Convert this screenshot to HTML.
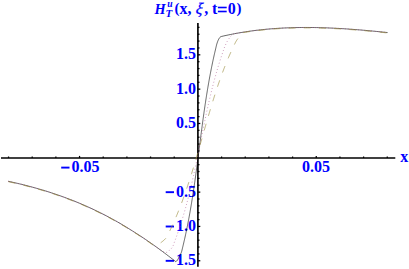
<!DOCTYPE html>
<html><head><meta charset="utf-8"><style>
html,body{margin:0;padding:0;background:#fff;}
svg{display:block;}
text{font-family:"Liberation Serif",serif;font-weight:bold;font-size:16px;fill:#0000ff;}
</style></head><body>
<svg width="409" height="269" viewBox="0 0 409 269">
<rect width="409" height="269" fill="#fff"/>
<g stroke="#000" stroke-width="1.65" fill="none">
<line x1="1" y1="158.00" x2="395.3" y2="158.00"/>
<line x1="197.9" y1="23.0" x2="197.9" y2="266.7"/>
</g>
<g stroke="#000" stroke-width="1.25" fill="none">
<line x1="8.54" y1="158.00" x2="8.54" y2="156.50"/>
<line x1="32.21" y1="158.00" x2="32.21" y2="156.50"/>
<line x1="55.88" y1="158.00" x2="55.88" y2="156.50"/>
<line x1="79.55" y1="158.00" x2="79.55" y2="155.90"/>
<line x1="103.22" y1="158.00" x2="103.22" y2="156.50"/>
<line x1="126.89" y1="158.00" x2="126.89" y2="156.50"/>
<line x1="150.56" y1="158.00" x2="150.56" y2="156.50"/>
<line x1="174.23" y1="158.00" x2="174.23" y2="156.50"/>
<line x1="221.57" y1="158.00" x2="221.57" y2="156.50"/>
<line x1="245.24" y1="158.00" x2="245.24" y2="156.50"/>
<line x1="268.91" y1="158.00" x2="268.91" y2="156.50"/>
<line x1="292.58" y1="158.00" x2="292.58" y2="156.50"/>
<line x1="316.25" y1="158.00" x2="316.25" y2="155.90"/>
<line x1="339.92" y1="158.00" x2="339.92" y2="156.50"/>
<line x1="363.59" y1="158.00" x2="363.59" y2="156.50"/>
<line x1="387.26" y1="158.00" x2="387.26" y2="156.50"/>
<line x1="197.90" y1="260.77" x2="200.30" y2="260.77"/>
<line x1="197.90" y1="253.91" x2="199.50" y2="253.91"/>
<line x1="197.90" y1="247.05" x2="199.50" y2="247.05"/>
<line x1="197.90" y1="240.18" x2="199.50" y2="240.18"/>
<line x1="197.90" y1="233.32" x2="199.50" y2="233.32"/>
<line x1="197.90" y1="226.45" x2="200.30" y2="226.45"/>
<line x1="197.90" y1="219.59" x2="199.50" y2="219.59"/>
<line x1="197.90" y1="212.72" x2="199.50" y2="212.72"/>
<line x1="197.90" y1="205.86" x2="199.50" y2="205.86"/>
<line x1="197.90" y1="198.99" x2="199.50" y2="198.99"/>
<line x1="197.90" y1="192.12" x2="200.30" y2="192.12"/>
<line x1="197.90" y1="185.26" x2="199.50" y2="185.26"/>
<line x1="197.90" y1="178.40" x2="199.50" y2="178.40"/>
<line x1="197.90" y1="171.53" x2="199.50" y2="171.53"/>
<line x1="197.90" y1="164.67" x2="199.50" y2="164.67"/>
<line x1="197.90" y1="150.94" x2="199.50" y2="150.94"/>
<line x1="197.90" y1="144.07" x2="199.50" y2="144.07"/>
<line x1="197.90" y1="137.21" x2="199.50" y2="137.21"/>
<line x1="197.90" y1="130.34" x2="199.50" y2="130.34"/>
<line x1="197.90" y1="123.48" x2="200.30" y2="123.48"/>
<line x1="197.90" y1="116.61" x2="199.50" y2="116.61"/>
<line x1="197.90" y1="109.75" x2="199.50" y2="109.75"/>
<line x1="197.90" y1="102.88" x2="199.50" y2="102.88"/>
<line x1="197.90" y1="96.02" x2="199.50" y2="96.02"/>
<line x1="197.90" y1="89.15" x2="200.30" y2="89.15"/>
<line x1="197.90" y1="82.28" x2="199.50" y2="82.28"/>
<line x1="197.90" y1="75.42" x2="199.50" y2="75.42"/>
<line x1="197.90" y1="68.56" x2="199.50" y2="68.56"/>
<line x1="197.90" y1="61.69" x2="199.50" y2="61.69"/>
<line x1="197.90" y1="54.83" x2="200.30" y2="54.83"/>
<line x1="197.90" y1="47.96" x2="199.50" y2="47.96"/>
<line x1="197.90" y1="41.09" x2="199.50" y2="41.09"/>
<line x1="197.90" y1="34.23" x2="199.50" y2="34.23"/>
<line x1="197.90" y1="27.37" x2="199.50" y2="27.37"/>
</g>
<g>
<text x="196.0" y="59.08" text-anchor="end">1.5</text>
<text x="196.0" y="93.70" text-anchor="end">1.0</text>
<text x="196.0" y="128.03" text-anchor="end">0.5</text>
<rect x="165.7" y="191.23" width="8.3" height="1.9" fill="#00f"/>
<text x="196.0" y="196.82" text-anchor="end">0.5</text>
<rect x="165.7" y="225.55" width="8.3" height="1.9" fill="#00f"/>
<text x="196.0" y="231.15" text-anchor="end">1.0</text>
<rect x="165.7" y="259.88" width="8.3" height="1.9" fill="#00f"/>
<text x="196.0" y="265.28" text-anchor="end">1.5</text>
<rect x="61.2" y="166.65" width="8.3" height="1.9" fill="#00f"/><text x="71.5" y="172.0">0.05</text>
<text x="302.0" y="172.0">0.05</text>
<text x="400.3" y="161.9">x</text>
<g id="title">
<text x="0" y="0" transform="translate(154.5 13.9) scale(0.94 1)" style="font-style:italic;font-size:15.2px">H</text>
<text x="167.2" y="7.2" style="font-style:italic;font-size:9.6px">u</text>
<text x="165.5" y="17.2" style="font-style:italic;font-size:10.9px">T</text>
<text x="174.4" y="12.8" style="font-size:14.8px">(</text>
<text x="179.6" y="14.1">x,</text>
<text x="195.2" y="14.2" style="font-style:italic;font-weight:normal;font-size:16.3px;stroke:#00f;stroke-width:0.25px" transform="translate(196 14.1) skewX(-8) translate(-196 -14.1)">ξ</text>
<text x="204.3" y="14.1">,</text>
<text x="212.0" y="14.1">t</text>
<rect x="217.9" y="6.7" width="8.8" height="1.6" fill="#00f"/>
<rect x="217.9" y="10.7" width="8.8" height="1.6" fill="#00f"/>
<text x="227.8" y="14.1">0</text>
<text x="236.5" y="12.8" style="font-size:14.8px">)</text>
</g>
</g>
<g fill="none" stroke-linejoin="round">
<path d="M8.20,181.29 L10.08,181.69 L11.97,182.11 L13.85,182.53 L15.73,182.96 L17.62,183.40 L19.50,183.85 L21.38,184.31 L23.27,184.77 L25.15,185.24 L27.03,185.73 L28.91,186.22 L30.80,186.72 L32.68,187.23 L34.56,187.74 L36.45,188.27 L38.33,188.81 L40.21,189.36 L42.10,189.92 L43.98,190.48 L45.86,191.06 L47.75,191.65 L49.63,192.25 L51.51,192.86 L53.40,193.48 L55.28,194.11 L57.16,194.75 L59.04,195.40 L60.93,196.07 L62.81,196.74 L64.69,197.43 L66.58,198.13 L68.46,198.84 L70.34,199.56 L72.23,200.29 L74.11,201.04 L75.99,201.80 L77.88,202.57 L79.76,203.35 L81.64,204.15 L83.53,204.96 L85.41,205.78 L87.29,206.62 L89.18,207.47 L91.06,208.33 L92.94,209.21 L94.82,210.10 L96.71,211.00 L98.59,211.92 L100.47,212.85 L102.36,213.80 L104.24,214.76 L106.12,215.73 L108.01,216.72 L109.89,217.73 L111.77,218.75 L113.66,219.78 L115.54,220.83 L117.42,221.89 L119.31,222.98 L121.19,224.07 L123.07,225.18 L124.96,226.31 L126.84,227.45 L128.72,228.61 L130.60,229.79 L132.49,230.97 L134.37,232.15 L136.25,233.34 L138.14,234.54 L140.02,235.77 L141.90,237.01 L143.79,238.27 L145.67,239.54 L147.55,240.83 L149.44,242.13 L151.32,243.45 L153.20,244.78 L155.09,246.11 L156.97,247.46 L158.85,248.82 L160.73,250.19 L162.62,251.58 L164.50,253.00 L166.38,254.43 L168.27,255.86 L170.15,257.30 L172.03,258.75 L173.92,260.19 L175.80,261.65 L176.54,261.14 L177.16,260.50 L177.68,259.77 L178.11,259.00 L178.48,258.19 L178.85,257.36 L179.23,256.55 L179.64,255.75 L180.08,254.96 L180.51,254.17 L180.92,253.38 L181.29,252.57 L181.58,251.74 L181.82,250.88 L182.04,250.01 L182.24,249.14 L182.44,248.26 L182.65,247.39 L182.86,246.52 L183.07,245.66 L183.28,244.79 L183.48,243.92 L183.69,243.05 L183.89,242.18 L184.09,241.31 L184.29,240.44 L184.49,239.56 L184.69,238.69 L184.88,237.82 L185.08,236.95 L185.27,236.08 L185.46,235.20 L185.65,234.33 L185.84,233.46 L186.03,232.58 L186.21,231.71 L186.39,230.83 L186.58,229.96 L186.76,229.08 L186.94,228.21 L187.11,227.33 L187.29,226.46 L187.47,225.58 L187.64,224.70 L187.81,223.83 L187.99,222.95 L188.16,222.07 L188.32,221.19 L188.49,220.32 L188.66,219.44 L188.82,218.56 L188.99,217.68 L189.15,216.80 L189.31,215.92 L189.47,215.04 L189.63,214.16 L189.79,213.28 L189.95,212.40 L190.10,211.52 L190.26,210.64 L190.41,209.76 L190.56,208.88 L190.71,208.00 L190.86,207.12 L191.01,206.24 L191.16,205.36 L191.31,204.48 L191.45,203.60 L191.60,202.71 L191.74,201.83 L191.89,200.95 L192.03,200.07 L192.17,199.19 L192.31,198.30 L192.45,197.42 L192.59,196.54 L192.73,195.65 L192.86,194.77 L193.00,193.89 L193.14,193.00 L193.27,192.12 L193.40,191.24 L193.54,190.35 L193.67,189.47 L193.80,188.59 L193.93,187.70 L194.06,186.82 L194.19,185.93 L194.32,185.05 L194.45,184.16 L194.57,183.28 L194.70,182.40 L194.83,181.51 L194.95,180.63 L195.08,179.74 L195.20,178.86 L195.32,177.97 L195.45,177.09 L195.57,176.20 L195.69,175.32 L195.81,174.43 L195.93,173.54 L196.06,172.66 L196.18,171.77 L196.30,170.89 L196.41,170.00 L196.53,169.12 L196.65,168.23 L196.77,167.34 L196.89,166.46 L197.01,165.57 L197.12,164.69 L197.24,163.80 L197.36,162.91 L197.47,162.03 L197.59,161.14 L197.70,160.26 L197.82,159.37 L197.93,158.48 L198.05,157.60 L198.16,156.71 L198.28,155.82 L198.39,154.94 L198.51,154.05 L198.62,153.17 L198.74,152.28 L198.85,151.39 L198.96,150.51 L199.08,149.62 L199.19,148.73 L199.30,147.85 L199.42,146.96 L199.53,146.07 L199.65,145.19 L199.76,144.30 L199.87,143.42 L199.99,142.53 L200.10,141.64 L200.22,140.76 L200.33,139.87 L200.44,138.98 L200.56,138.10 L200.67,137.21 L200.79,136.32 L200.90,135.44 L201.02,134.55 L201.13,133.67 L201.25,132.78 L201.37,131.89 L201.48,131.01 L201.60,130.12 L201.72,129.24 L201.83,128.35 L201.95,127.46 L202.07,126.58 L202.19,125.69 L202.30,124.81 L202.42,123.92 L202.54,123.03 L202.66,122.15 L202.78,121.26 L202.90,120.38 L203.02,119.49 L203.15,118.61 L203.27,117.72 L203.39,116.84 L203.51,115.95 L203.64,115.07 L203.76,114.18 L203.89,113.30 L204.01,112.41 L204.14,111.53 L204.26,110.64 L204.39,109.76 L204.52,108.87 L204.65,107.99 L204.78,107.10 L204.91,106.22 L205.04,105.34 L205.17,104.45 L205.30,103.57 L205.44,102.68 L205.57,101.80 L205.70,100.92 L205.84,100.03 L205.98,99.15 L206.11,98.27 L206.25,97.38 L206.39,96.50 L206.53,95.62 L206.67,94.74 L206.81,93.85 L206.95,92.97 L207.10,92.09 L207.24,91.21 L207.39,90.33 L207.53,89.44 L207.68,88.56 L207.83,87.68 L207.98,86.80 L208.13,85.92 L208.28,85.04 L208.43,84.16 L208.58,83.28 L208.74,82.40 L208.89,81.52 L209.05,80.64 L209.21,79.76 L209.37,78.88 L209.53,78.00 L209.69,77.12 L209.85,76.24 L210.02,75.36 L210.18,74.49 L210.35,73.61 L210.52,72.73 L210.69,71.85 L210.86,70.97 L211.03,70.10 L211.20,69.22 L211.37,68.34 L211.55,67.47 L211.73,66.59 L211.91,65.72 L212.08,64.84 L212.27,63.97 L212.45,63.09 L212.63,62.22 L212.82,61.34 L213.00,60.47 L213.19,59.59 L213.38,58.72 L213.57,57.85 L213.77,56.98 L213.96,56.10 L214.15,55.23 L214.35,54.36 L214.55,53.49 L214.75,52.62 L214.95,51.75 L215.16,50.88 L215.36,50.01 L215.57,49.14 L215.78,48.27 L215.98,47.40 L216.18,46.52 L216.39,45.65 L216.60,44.79 L216.84,43.93 L217.11,43.08 L217.40,42.23 L217.71,41.38 L218.05,40.56 L218.42,39.75 L218.83,38.95 L219.30,38.19 L219.83,37.46 L220.47,36.85 L221.30,36.50 L223.17,36.07 L225.04,35.65 L226.91,35.25 L228.77,34.85 L230.64,34.47 L232.51,34.10 L234.38,33.74 L236.25,33.39 L238.12,33.05 L239.99,32.73 L241.85,32.41 L243.72,32.11 L245.59,31.82 L247.46,31.53 L249.33,31.26 L251.20,31.00 L253.07,30.75 L254.93,30.51 L256.80,30.28 L258.67,30.06 L260.54,29.85 L262.41,29.65 L264.28,29.46 L266.14,29.27 L268.01,29.10 L269.88,28.94 L271.75,28.79 L273.62,28.64 L275.49,28.51 L277.36,28.38 L279.22,28.26 L281.09,28.16 L282.96,28.06 L284.83,27.96 L286.70,27.88 L288.57,27.81 L290.44,27.74 L292.30,27.68 L294.17,27.63 L296.04,27.59 L297.91,27.55 L299.78,27.52 L301.65,27.50 L303.52,27.49 L305.38,27.48 L307.25,27.48 L309.12,27.49 L310.99,27.50 L312.86,27.52 L314.73,27.55 L316.60,27.59 L318.46,27.63 L320.33,27.67 L322.20,27.73 L324.07,27.79 L325.94,27.85 L327.81,27.92 L329.68,28.00 L331.54,28.08 L333.41,28.17 L335.28,28.26 L337.15,28.36 L339.02,28.46 L340.89,28.57 L342.76,28.68 L344.62,28.80 L346.49,28.93 L348.36,29.05 L350.23,29.18 L352.10,29.32 L353.97,29.46 L355.83,29.60 L357.70,29.75 L359.57,29.90 L361.44,30.06 L363.31,30.22 L365.18,30.38 L367.05,30.55 L368.91,30.72 L370.78,30.89 L372.65,31.07 L374.52,31.25 L376.39,31.43 L378.26,31.61 L380.13,31.80 L381.99,31.99 L383.86,32.18 L385.73,32.37 L387.60,32.57" stroke="#000" stroke-width="0.6"/>
<path d="M8.20,181.29 L9.91,181.66 L11.62,182.03 L13.33,182.42 L15.04,182.81 L16.76,183.20 L18.47,183.60 L20.18,184.01 L21.89,184.43 L23.60,184.85 L25.31,185.28 L27.02,185.72 L28.73,186.17 L30.45,186.62 L32.16,187.08 L33.87,187.55 L35.58,188.03 L37.29,188.51 L39.00,189.00 L40.71,189.50 L42.42,190.01 L44.14,190.53 L45.85,191.06 L47.56,191.59 L49.27,192.13 L50.98,192.68 L52.69,193.24 L54.40,193.81 L56.11,194.39 L57.83,194.98 L59.54,195.57 L61.25,196.18 L62.96,196.79 L64.67,197.42 L66.38,198.05 L68.09,198.70 L69.80,199.35 L71.52,200.01 L73.23,200.69 L74.94,201.37 L76.65,202.07 L78.36,202.77 L80.07,203.49 L81.78,204.21 L83.49,204.95 L85.21,205.69 L86.92,206.45 L88.63,207.22 L90.34,208.00 L92.05,208.79 L93.76,209.59 L95.47,210.41 L97.18,211.23 L98.90,212.07 L100.61,212.92 L102.32,213.78 L104.03,214.65 L105.74,215.53 L107.45,216.43 L109.16,217.34 L110.87,218.26 L112.59,219.19 L114.30,220.14 L116.01,221.09 L117.72,222.06 L119.43,223.05 L121.14,224.04 L122.85,225.05 L124.56,226.07 L126.28,227.11 L127.99,228.16 L129.70,229.22 L131.41,230.30 L133.12,231.36 L134.83,232.44 L136.54,233.52 L138.25,234.62 L139.97,235.73 L141.68,236.86 L143.39,238.00 L145.10,239.15 L146.81,240.32 L148.52,241.50 L150.23,242.69 L151.94,243.89 L153.66,245.10 L155.37,246.32 L157.08,247.54 L158.79,248.78 L160.50,250.02 L161.25,250.63 L162.03,251.16 L162.85,251.60 L163.68,251.91 L164.56,252.12 L165.50,252.30 L166.41,252.39 L167.22,252.29 L167.96,251.77 L168.67,251.05 L169.35,250.34 L170.05,249.73 L170.75,249.09 L171.42,248.44 L172.02,247.75 L172.53,247.02 L172.93,246.23 L173.27,245.38 L173.57,244.49 L173.87,243.61 L174.19,242.74 L174.52,241.88 L174.85,241.02 L175.17,240.16 L175.49,239.30 L175.80,238.44 L176.12,237.57 L176.43,236.71 L176.74,235.84 L177.05,234.98 L177.36,234.11 L177.66,233.24 L177.96,232.38 L178.26,231.51 L178.56,230.64 L178.85,229.77 L179.15,228.90 L179.44,228.03 L179.73,227.15 L180.01,226.28 L180.30,225.41 L180.58,224.53 L180.86,223.66 L181.14,222.78 L181.42,221.91 L181.69,221.03 L181.96,220.15 L182.23,219.27 L182.50,218.39 L182.77,217.52 L183.03,216.64 L183.30,215.76 L183.56,214.87 L183.82,213.99 L184.08,213.11 L184.33,212.23 L184.59,211.35 L184.84,210.46 L185.09,209.58 L185.34,208.69 L185.58,207.81 L185.83,206.92 L186.07,206.04 L186.31,205.15 L186.55,204.26 L186.79,203.38 L187.03,202.49 L187.27,201.60 L187.50,200.71 L187.73,199.82 L187.96,198.93 L188.19,198.04 L188.42,197.15 L188.65,196.26 L188.87,195.37 L189.10,194.48 L189.32,193.59 L189.54,192.70 L189.76,191.81 L189.98,190.91 L190.19,190.02 L190.41,189.13 L190.62,188.23 L190.84,187.34 L191.05,186.44 L191.26,185.55 L191.47,184.66 L191.68,183.76 L191.88,182.87 L192.09,181.97 L192.29,181.07 L192.50,180.18 L192.70,179.28 L192.90,178.39 L193.10,177.49 L193.30,176.59 L193.50,175.70 L193.70,174.80 L193.90,173.90 L194.09,173.00 L194.29,172.11 L194.48,171.21 L194.68,170.31 L194.87,169.41 L195.06,168.51 L195.25,167.61 L195.44,166.72 L195.63,165.82 L195.82,164.92 L196.01,164.02 L196.20,163.12 L196.39,162.22 L196.58,161.32 L196.76,160.42 L196.95,159.52 L197.13,158.62 L197.32,157.72 L197.50,156.82 L197.69,155.92 L197.87,155.02 L198.06,154.12 L198.24,153.22 L198.42,152.32 L198.60,151.42 L198.79,150.52 L198.97,149.62 L199.15,148.72 L199.33,147.82 L199.51,146.91 L199.69,146.01 L199.88,145.11 L200.06,144.21 L200.24,143.31 L200.42,142.41 L200.60,141.51 L200.78,140.61 L200.96,139.71 L201.14,138.81 L201.32,137.91 L201.51,137.01 L201.69,136.10 L201.87,135.20 L202.05,134.30 L202.23,133.40 L202.41,132.50 L202.60,131.60 L202.78,130.70 L202.96,129.80 L203.15,128.90 L203.33,128.00 L203.51,127.10 L203.70,126.20 L203.88,125.30 L204.07,124.40 L204.26,123.50 L204.44,122.60 L204.63,121.70 L204.82,120.80 L205.00,119.90 L205.19,119.00 L205.38,118.10 L205.57,117.20 L205.76,116.31 L205.95,115.41 L206.15,114.51 L206.34,113.61 L206.53,112.71 L206.73,111.81 L206.92,110.92 L207.12,110.02 L207.32,109.12 L207.51,108.22 L207.71,107.33 L207.91,106.43 L208.11,105.53 L208.32,104.64 L208.52,103.74 L208.72,102.84 L208.93,101.95 L209.13,101.05 L209.34,100.16 L209.55,99.26 L209.76,98.37 L209.97,97.47 L210.18,96.58 L210.39,95.69 L210.61,94.79 L210.82,93.90 L211.04,93.01 L211.26,92.11 L211.47,91.22 L211.69,90.33 L211.92,89.44 L212.14,88.55 L212.36,87.66 L212.59,86.77 L212.82,85.88 L213.05,84.99 L213.28,84.10 L213.51,83.21 L213.74,82.32 L213.98,81.43 L214.22,80.54 L214.45,79.65 L214.69,78.77 L214.94,77.88 L215.18,77.00 L215.42,76.11 L215.67,75.22 L215.92,74.34 L216.17,73.46 L216.42,72.57 L216.68,71.69 L216.93,70.81 L217.19,69.92 L217.45,69.04 L217.71,68.16 L217.97,67.28 L218.24,66.40 L218.50,65.52 L218.77,64.64 L219.04,63.77 L219.31,62.89 L219.59,62.01 L219.86,61.13 L220.14,60.26 L220.42,59.38 L220.71,58.51 L220.99,57.64 L221.28,56.76 L221.56,55.89 L221.86,55.02 L222.15,54.15 L222.44,53.28 L222.74,52.41 L223.04,51.54 L223.34,50.67 L223.64,49.80 L223.93,48.93 L224.24,48.06 L224.56,47.20 L224.90,46.35 L225.26,45.50 L225.62,44.66 L226.01,43.82 L226.40,42.98 L226.81,42.16 L227.24,41.35 L227.69,40.55 L228.17,39.78 L228.69,39.02 L229.23,38.27 L229.77,37.52 L230.32,36.77 L230.89,36.04 L231.51,35.39 L232.21,34.82 L232.98,34.30 L233.80,33.85 L235.53,33.52 L237.26,33.21 L238.98,32.90 L240.71,32.60 L242.44,32.32 L244.17,32.04 L245.90,31.77 L247.62,31.51 L249.35,31.26 L251.08,31.02 L252.81,30.78 L254.54,30.56 L256.27,30.34 L257.99,30.14 L259.72,29.94 L261.45,29.75 L263.18,29.57 L264.91,29.39 L266.63,29.23 L268.36,29.07 L270.09,28.92 L271.82,28.78 L273.55,28.65 L275.27,28.52 L277.00,28.41 L278.73,28.29 L280.46,28.19 L282.19,28.10 L283.91,28.01 L285.64,27.93 L287.37,27.85 L289.10,27.79 L290.83,27.73 L292.56,27.67 L294.28,27.63 L296.01,27.59 L297.74,27.55 L299.47,27.53 L301.20,27.50 L302.92,27.49 L304.65,27.48 L306.38,27.48 L308.11,27.48 L309.84,27.49 L311.56,27.51 L313.29,27.53 L315.02,27.56 L316.75,27.59 L318.48,27.63 L320.20,27.67 L321.93,27.72 L323.66,27.77 L325.39,27.83 L327.12,27.90 L328.84,27.96 L330.57,28.04 L332.30,28.12 L334.03,28.20 L335.76,28.29 L337.49,28.38 L339.21,28.47 L340.94,28.58 L342.67,28.68 L344.40,28.79 L346.13,28.90 L347.85,29.02 L349.58,29.14 L351.31,29.26 L353.04,29.39 L354.77,29.52 L356.49,29.66 L358.22,29.79 L359.95,29.94 L361.68,30.08 L363.41,30.23 L365.13,30.38 L366.86,30.53 L368.59,30.69 L370.32,30.85 L372.05,31.01 L373.78,31.17 L375.50,31.34 L377.23,31.51 L378.96,31.68 L380.69,31.86 L382.42,32.03 L384.14,32.21 L385.87,32.39 L387.60,32.57" stroke="#a8508a" stroke-width="0.75" stroke-dasharray="0.75 2.55"/>
<path d="M8.20,181.29 L9.82,181.64 L11.44,181.99 L13.06,182.35 L14.69,182.72 L16.31,183.10 L17.93,183.48 L19.55,183.86 L21.17,184.25 L22.79,184.65 L24.41,185.06 L26.03,185.47 L27.66,185.89 L29.28,186.31 L30.90,186.74 L32.52,187.18 L34.14,187.63 L35.76,188.08 L37.38,188.54 L39.01,189.01 L40.63,189.48 L42.25,189.96 L43.87,190.45 L45.49,190.95 L47.11,191.45 L48.73,191.96 L50.36,192.48 L51.98,193.01 L53.60,193.54 L55.22,194.09 L56.84,194.64 L58.46,195.20 L60.08,195.77 L61.70,196.34 L63.33,196.93 L64.95,197.52 L66.57,198.12 L68.19,198.73 L69.81,199.35 L71.43,199.98 L73.05,200.62 L74.68,201.27 L76.30,201.92 L77.92,202.59 L79.54,203.26 L81.16,203.95 L82.78,204.64 L84.40,205.34 L86.02,206.06 L87.65,206.78 L89.27,207.51 L90.89,208.25 L92.51,209.01 L94.13,209.77 L95.75,210.54 L97.37,211.33 L99.00,212.12 L100.62,212.92 L102.24,213.74 L103.86,214.56 L105.48,215.40 L107.10,216.25 L108.72,217.10 L110.34,217.97 L111.97,218.85 L113.59,219.74 L115.21,220.64 L116.83,221.56 L118.45,222.48 L120.07,223.42 L121.69,224.37 L123.32,225.33 L124.94,226.30 L126.56,227.28 L128.18,228.28 L129.80,229.29 L131.42,230.30 L133.04,231.32 L134.67,232.33 L136.29,233.36 L137.91,234.40 L139.53,235.45 L141.15,236.51 L142.77,237.59 L144.39,238.68 L146.01,239.78 L147.64,240.89 L149.26,242.01 L150.88,243.14 L152.50,244.28 L153.46,244.49 L154.39,244.61 L155.30,244.68 L156.17,244.70 L157.02,244.70 L157.83,244.48 L158.63,244.01 L159.39,243.40 L160.14,242.78 L160.87,242.23 L161.60,241.69 L162.34,241.12 L163.07,240.54 L163.78,239.94 L164.46,239.32 L165.12,238.67 L165.72,238.01 L166.28,237.32 L166.78,236.61 L167.22,235.83 L167.62,235.00 L168.00,234.16 L168.39,233.32 L168.79,232.50 L169.19,231.69 L169.59,230.87 L169.99,230.05 L170.38,229.23 L170.77,228.41 L171.16,227.59 L171.55,226.76 L171.93,225.94 L172.31,225.11 L172.69,224.28 L173.06,223.46 L173.43,222.63 L173.80,221.79 L174.17,220.96 L174.54,220.13 L174.90,219.29 L175.26,218.46 L175.61,217.62 L175.97,216.79 L176.32,215.95 L176.67,215.11 L177.02,214.27 L177.37,213.43 L177.71,212.58 L178.05,211.74 L178.39,210.90 L178.73,210.05 L179.06,209.21 L179.40,208.36 L179.73,207.51 L180.06,206.66 L180.38,205.82 L180.71,204.97 L181.03,204.12 L181.35,203.26 L181.67,202.41 L181.99,201.56 L182.30,200.71 L182.62,199.85 L182.93,199.00 L183.24,198.14 L183.55,197.29 L183.85,196.43 L184.16,195.57 L184.46,194.72 L184.76,193.86 L185.07,193.00 L185.36,192.14 L185.66,191.28 L185.96,190.42 L186.25,189.56 L186.55,188.70 L186.84,187.84 L187.13,186.98 L187.42,186.12 L187.71,185.25 L187.99,184.39 L188.28,183.53 L188.56,182.66 L188.85,181.80 L189.13,180.93 L189.41,180.07 L189.69,179.20 L189.97,178.33 L190.24,177.47 L190.52,176.60 L190.79,175.73 L191.07,174.87 L191.34,174.00 L191.61,173.13 L191.88,172.26 L192.15,171.39 L192.42,170.52 L192.69,169.66 L192.95,168.79 L193.22,167.92 L193.48,167.05 L193.75,166.18 L194.01,165.30 L194.27,164.43 L194.53,163.56 L194.79,162.69 L195.05,161.82 L195.31,160.95 L195.57,160.08 L195.83,159.20 L196.09,158.33 L196.34,157.46 L196.60,156.59 L196.86,155.71 L197.11,154.84 L197.36,153.97 L197.62,153.09 L197.87,152.22 L198.13,151.35 L198.38,150.47 L198.63,149.60 L198.88,148.72 L199.13,147.85 L199.38,146.97 L199.64,146.10 L199.89,145.23 L200.14,144.35 L200.39,143.48 L200.64,142.60 L200.89,141.73 L201.14,140.85 L201.38,139.98 L201.63,139.10 L201.88,138.23 L202.13,137.35 L202.38,136.48 L202.63,135.60 L202.88,134.73 L203.13,133.85 L203.38,132.98 L203.63,132.11 L203.88,131.23 L204.13,130.36 L204.38,129.48 L204.63,128.61 L204.88,127.73 L205.13,126.86 L205.38,125.98 L205.63,125.11 L205.88,124.24 L206.13,123.36 L206.38,122.49 L206.64,121.61 L206.89,120.74 L207.14,119.87 L207.40,118.99 L207.65,118.12 L207.91,117.25 L208.16,116.37 L208.42,115.50 L208.67,114.63 L208.93,113.76 L209.19,112.88 L209.45,112.01 L209.71,111.14 L209.97,110.27 L210.23,109.40 L210.49,108.52 L210.75,107.65 L211.01,106.78 L211.28,105.91 L211.54,105.04 L211.81,104.17 L212.08,103.30 L212.34,102.43 L212.61,101.56 L212.88,100.70 L213.15,99.83 L213.42,98.96 L213.69,98.09 L213.97,97.22 L214.24,96.36 L214.52,95.49 L214.79,94.62 L215.07,93.76 L215.35,92.89 L215.63,92.03 L215.91,91.16 L216.20,90.30 L216.48,89.43 L216.77,88.57 L217.05,87.71 L217.34,86.84 L217.63,85.98 L217.92,85.12 L218.21,84.26 L218.51,83.40 L218.80,82.54 L219.10,81.68 L219.40,80.82 L219.70,79.96 L220.00,79.10 L220.30,78.24 L220.61,77.38 L220.91,76.53 L221.22,75.67 L221.53,74.82 L221.84,73.96 L222.16,73.11 L222.47,72.26 L222.79,71.40 L223.11,70.55 L223.43,69.70 L223.76,68.85 L224.09,68.00 L224.41,67.16 L224.74,66.31 L225.08,65.46 L225.41,64.62 L225.75,63.77 L226.09,62.93 L226.43,62.09 L226.78,61.24 L227.12,60.40 L227.47,59.56 L227.82,58.72 L228.18,57.89 L228.54,57.05 L228.90,56.21 L229.26,55.38 L229.62,54.55 L229.99,53.71 L230.36,52.88 L230.73,52.05 L231.11,51.22 L231.48,50.40 L231.86,49.57 L232.25,48.75 L232.63,47.92 L233.02,47.10 L233.41,46.28 L233.81,45.46 L234.20,44.64 L234.59,43.81 L234.98,42.99 L235.38,42.17 L235.81,41.37 L236.26,40.59 L236.74,39.82 L237.26,39.07 L237.79,38.33 L238.33,37.60 L238.87,36.86 L239.41,36.13 L239.94,35.39 L240.46,34.64 L240.97,33.89 L241.49,33.14 L242.00,32.39 L243.64,32.12 L245.27,31.86 L246.91,31.61 L248.54,31.37 L250.18,31.14 L251.82,30.92 L253.45,30.70 L255.09,30.49 L256.72,30.29 L258.36,30.09 L260.00,29.91 L261.63,29.73 L263.27,29.56 L264.90,29.39 L266.54,29.24 L268.18,29.09 L269.81,28.95 L271.45,28.81 L273.08,28.68 L274.72,28.56 L276.36,28.45 L277.99,28.34 L279.63,28.24 L281.26,28.15 L282.90,28.06 L284.53,27.98 L286.17,27.90 L287.81,27.84 L289.44,27.77 L291.08,27.72 L292.71,27.67 L294.35,27.62 L295.99,27.59 L297.62,27.55 L299.26,27.53 L300.89,27.51 L302.53,27.49 L304.17,27.48 L305.80,27.48 L307.44,27.48 L309.07,27.49 L310.71,27.50 L312.35,27.52 L313.98,27.54 L315.62,27.57 L317.25,27.60 L318.89,27.64 L320.53,27.68 L322.16,27.73 L323.80,27.78 L325.43,27.83 L327.07,27.89 L328.71,27.96 L330.34,28.03 L331.98,28.10 L333.61,28.18 L335.25,28.26 L336.89,28.35 L338.52,28.44 L340.16,28.53 L341.79,28.63 L343.43,28.73 L345.07,28.83 L346.70,28.94 L348.34,29.05 L349.97,29.17 L351.61,29.28 L353.24,29.41 L354.88,29.53 L356.52,29.66 L358.15,29.79 L359.79,29.92 L361.42,30.06 L363.06,30.20 L364.70,30.34 L366.33,30.49 L367.97,30.63 L369.60,30.78 L371.24,30.93 L372.88,31.09 L374.51,31.25 L376.15,31.40 L377.78,31.56 L379.42,31.73 L381.06,31.89 L382.69,32.06 L384.33,32.23 L385.96,32.40 L387.60,32.57" transform="translate(0 0.4)" stroke="#998b3d" stroke-width="0.65" stroke-dasharray="6.9 8.3" stroke-dashoffset="14.84"/>
</g>
</svg>
</body></html>
